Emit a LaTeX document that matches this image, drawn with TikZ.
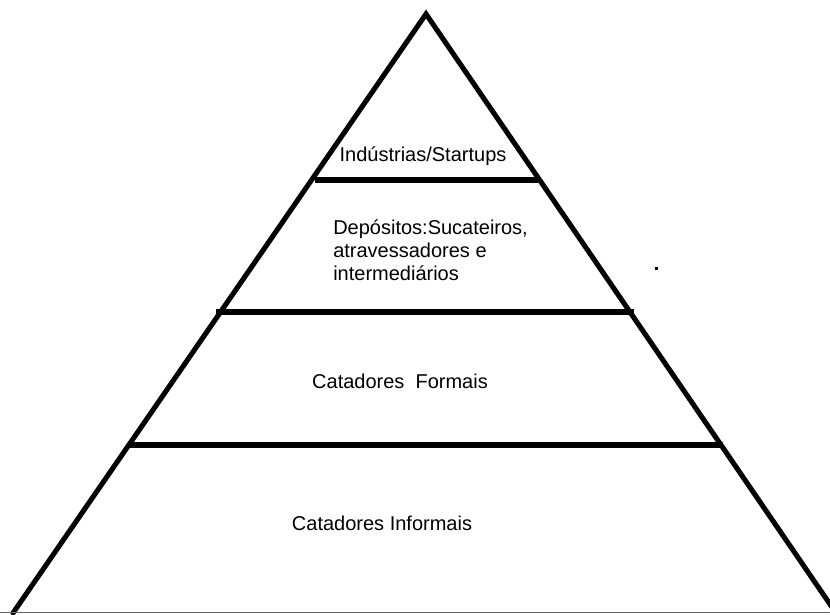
\documentclass[tikz,border=0pt]{standalone}
\usepackage{fontspec}
\setmainfont{Liberation Sans}
\usetikzlibrary{positioning}

\tikzset{
    side/.style={line width=3.8pt, line join=miter, line cap=round},
    level/.style={line width=4.8pt},
    label/.style={font=\fontsize{15}{17.2}\selectfont, inner sep=0pt}
}

\begin{document}
\begin{tikzpicture}[x=0.75pt, y=-0.75pt]
    \useasboundingbox (0,0) rectangle (830,614);

    % Pyramid outline
    \coordinate (apex) at (426,14);
    \coordinate (baseL) at (13,613);
    \coordinate (baseR) at (836,613);
    \draw[side] (baseL) -- (apex) -- (baseR);
    \draw[line width=1.2pt, gray!80!black] (0,612.5) -- (830,612.5);

    % Levels
    \coordinate (l1L) at (315,180);
    \coordinate (l1R) at (538,180);
    \draw[level] (l1L) -- (l1R);

    \coordinate (l2L) at (216,312);
    \coordinate (l2R) at (634,312);
    \draw[level] (l2L) -- (l2R);

    \coordinate (l3L) at (128,445);
    \coordinate (l3R) at (723,445);
    \draw[level] (l3L) -- (l3R);

    % Labels
    \node[label] (top) at (423,156) {Indústrias/Startups};
    \node[label, align=left, anchor=west] (dep) at (333,250)
        {Depósitos:Sucateiros,\\atravessadores e\\intermediários};
    \node[label] (formal) at (400,381) {Catadores\ \ Formais};
    \node[label] (informal) at (382,523) {Catadores Informais};

    % Stray dot
    \fill (654.5,266.5) rectangle (657.5,269.5);
\end{tikzpicture}
\end{document}
